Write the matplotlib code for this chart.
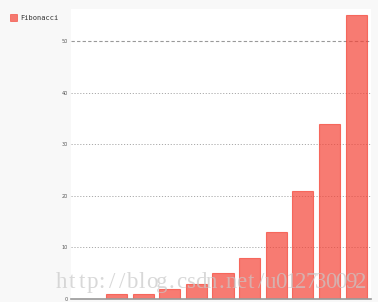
import matplotlib
matplotlib.use('Agg')
import matplotlib.pyplot as plt
from matplotlib.patches import Rectangle

# Fibonacci data
labels = [str(i) for i in range(11)]
values = [0, 1, 1, 2, 3, 5, 8, 13, 21, 34, 55]
yticks = [0, 10, 20, 30, 40, 50]
watermark = 'http://blog.csdn.net/u012730092'

bg = '#f8f8f8'
red = '#F44336'

fig = plt.figure(figsize=(3.78, 3.02), dpi=100, facecolor=bg)
# plot area in pixels: x 71..371, y 9..299
W, H = 378, 302
ax = fig.add_axes([71 / W, (H - 299) / H, 300 / W, 290 / H])
ax.set_facecolor('white')

x = list(range(len(values)))
ax.bar(x, values, width=0.79, color=red, alpha=0.7, edgecolor=red, linewidth=0.8)

ax.set_xlim(-0.71, 10.56)
ax.set_ylim(0, 56.2)

for v in yticks[1:]:
    if v == 50:
        ax.axhline(v, color='#999999', lw=0.8, ls=(0, (3, 2)), zorder=0)
    else:
        ax.axhline(v, color='#aaaaaa', lw=0.7, ls=(0, (1.2, 1.8)), zorder=0)
ax.axhline(0, color='#999999', lw=1.2, zorder=3, clip_on=False)

ax.set_yticks(yticks)
ax.set_yticklabels([str(v) for v in yticks], fontsize=3.5, color='#555555')
ax.tick_params(axis='y', length=0, pad=2)
ax.set_xticks([])
for s in ax.spines.values():
    s.set_visible(False)

# legend
fig.patches.append(Rectangle((10 / W, 1 - 21 / H), 7 / W, 7 / H, transform=fig.transFigure,
                             facecolor=red, alpha=0.7, edgecolor=red, lw=0.6))
fig.text(20 / W, 1 - 17.5 / H, 'Fibonacci', fontsize=5, family='DejaVu Sans Mono',
         color='#333333', va='center', ha='left')

# watermark, spaced out like the original
for i, ch in enumerate(watermark):
    fig.text((62 + i * 9.95) / W, 1 - 288 / H, ch, fontsize=16.5,
             family='Liberation Serif', color='#c8c8c8', alpha=0.7,
             va='baseline', ha='center')

fig.savefig('out.png', dpi=100, facecolor=bg)
